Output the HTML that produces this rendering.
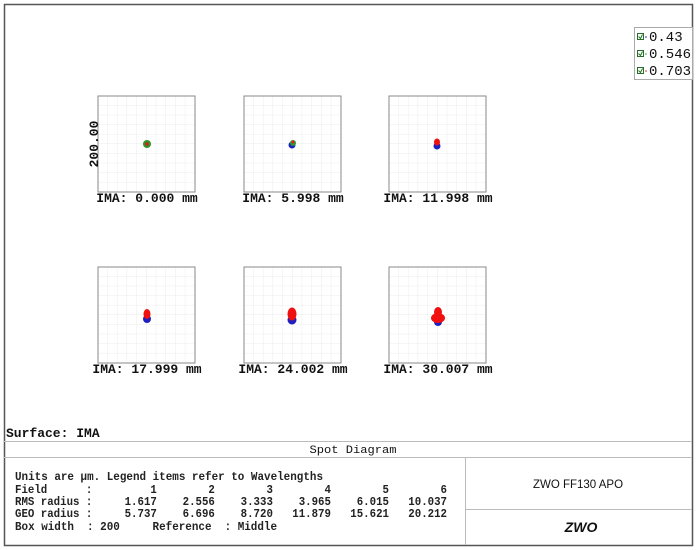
<!DOCTYPE html>
<html><head><meta charset="utf-8"><style>
body{margin:0;background:#fff;}
svg{display:block;font-family:"Liberation Mono",monospace;}
.pre{white-space:pre;}
</style></head><body>
<svg width="700" height="550" viewBox="0 0 700 550" xmlns="http://www.w3.org/2000/svg">
<defs>
<pattern id="g1" patternUnits="userSpaceOnUse" x="98" y="96" width="9.7" height="9.6"><path d="M9.7 0V9.6M0 9.6H9.7" stroke="#ebebeb" stroke-width="1" fill="none"/></pattern>
<pattern id="g2" patternUnits="userSpaceOnUse" x="244" y="96" width="9.7" height="9.6"><path d="M9.7 0V9.6M0 9.6H9.7" stroke="#ebebeb" stroke-width="1" fill="none"/></pattern>
<pattern id="g3" patternUnits="userSpaceOnUse" x="389" y="96" width="9.7" height="9.6"><path d="M9.7 0V9.6M0 9.6H9.7" stroke="#ebebeb" stroke-width="1" fill="none"/></pattern>
<pattern id="g4" patternUnits="userSpaceOnUse" x="98" y="267" width="9.7" height="9.6"><path d="M9.7 0V9.6M0 9.6H9.7" stroke="#ebebeb" stroke-width="1" fill="none"/></pattern>
<pattern id="g5" patternUnits="userSpaceOnUse" x="244" y="267" width="9.7" height="9.6"><path d="M9.7 0V9.6M0 9.6H9.7" stroke="#ebebeb" stroke-width="1" fill="none"/></pattern>
<pattern id="g6" patternUnits="userSpaceOnUse" x="389" y="267" width="9.7" height="9.6"><path d="M9.7 0V9.6M0 9.6H9.7" stroke="#ebebeb" stroke-width="1" fill="none"/></pattern>
</defs>
<rect x="4.5" y="4.5" width="688" height="541" fill="#fff" stroke="#555" stroke-width="1.5"/>
<g stroke="#888" stroke-width="1">
<rect x="98" y="96" width="97" height="96" fill="url(#g1)"/>
<rect x="244" y="96" width="97" height="96" fill="url(#g2)"/>
<rect x="389" y="96" width="97" height="96" fill="url(#g3)"/>
<rect x="98" y="267" width="97" height="96" fill="url(#g4)"/>
<rect x="244" y="267" width="97" height="96" fill="url(#g5)"/>
<rect x="389" y="267" width="97" height="96" fill="url(#g6)"/>
</g>
<circle cx="147" cy="144" r="4" fill="#2a9a2a"/><circle cx="147" cy="144" r="2" fill="#c03020"/>
<circle cx="292" cy="145" r="3.5" fill="#2020c0"/><circle cx="293" cy="143" r="3" fill="#2a9a2a"/><circle cx="293" cy="142" r="1.5" fill="#e02020"/>
<circle cx="437" cy="146" r="3.5" fill="#2020c0"/><ellipse cx="437" cy="142" rx="3" ry="3.5" fill="#f01010"/>
<circle cx="147" cy="319" r="4" fill="#2020c0"/><ellipse cx="147" cy="314" rx="3.5" ry="5" fill="#f01010"/>
<circle cx="292" cy="320" r="4.5" fill="#2020c0"/><ellipse cx="292" cy="314" rx="4.5" ry="6.5" fill="#f01010"/>
<circle cx="438" cy="322" r="4" fill="#2020c0"/><ellipse cx="438" cy="312" rx="4" ry="5" fill="#f01010"/><ellipse cx="438" cy="318" rx="7" ry="5" fill="#f01010"/>
<g font-size="13" font-weight="bold" fill="#111">
<text x="147" y="202" text-anchor="middle">IMA: 0.000 mm</text>
<text x="293" y="202" text-anchor="middle">IMA: 5.998 mm</text>
<text x="438" y="202" text-anchor="middle">IMA: 11.998 mm</text>
<text x="147" y="373" text-anchor="middle">IMA: 17.999 mm</text>
<text x="293" y="373" text-anchor="middle">IMA: 24.002 mm</text>
<text x="438" y="373" text-anchor="middle">IMA: 30.007 mm</text>
<text transform="translate(98,144) rotate(-90)" text-anchor="middle" font-size="13">200.00</text>
</g>
<rect x="634.5" y="27.5" width="58" height="52" fill="#fff" stroke="#aaa"/>
<g font-size="14" fill="#111">
<text x="649" y="41">0.43</text><text x="649" y="58">0.546</text><text x="649" y="75">0.703</text>
</g>
<g stroke="#2a6a2a" fill="none" stroke-width="1">
<rect x="637.5" y="33.5" width="6" height="6"/><rect x="637.5" y="50.5" width="6" height="6"/><rect x="637.5" y="67.5" width="6" height="6"/>
<path d="M638.5 36.5l2 2 2-4M638.5 53.5l2 2 2-4M638.5 70.5l2 2 2-4" stroke="#1a7a1a"/>
</g>
<circle cx="646" cy="37" r="0.8" fill="#2020c0"/><circle cx="646" cy="54" r="0.8" fill="#2a9a2a"/><circle cx="646" cy="71" r="0.8" fill="#e02020"/>
<text x="6" y="437" font-size="13" font-weight="bold" fill="#111">Surface: IMA</text>
<g stroke="#bbb" stroke-width="1">
<line x1="4" y1="441.5" x2="692" y2="441.5"/>
<line x1="4" y1="457.5" x2="692" y2="457.5"/>
<line x1="465.5" y1="457" x2="465.5" y2="545"/>
<line x1="465" y1="509.5" x2="692" y2="509.5"/>
</g>
<text x="353" y="453" font-size="11" text-anchor="middle" fill="#111" textLength="87" lengthAdjust="spacingAndGlyphs">Spot Diagram</text>
<g font-size="11.5" font-weight="bold" fill="#222">
<text class="pre" x="15" y="480" textLength="308" lengthAdjust="spacingAndGlyphs">Units are µm. Legend items refer to Wavelengths</text>
<text class="pre" x="15" y="493" textLength="432" lengthAdjust="spacingAndGlyphs">Field      :         1        2        3        4        5        6</text>
<text class="pre" x="15" y="505" textLength="432" lengthAdjust="spacingAndGlyphs">RMS radius :     1.617    2.556    3.333    3.965    6.015   10.037</text>
<text class="pre" x="15" y="517" textLength="432" lengthAdjust="spacingAndGlyphs">GEO radius :     5.737    6.696    8.720   11.879   15.621   20.212</text>
<text class="pre" x="15" y="530" textLength="262" lengthAdjust="spacingAndGlyphs">Box width  : 200     Reference  : Middle</text>
</g>
<text x="578" y="488" font-family="Liberation Sans,sans-serif" font-size="11.5" text-anchor="middle" fill="#111">ZWO FF130 APO</text>
<text x="581" y="532" font-family="Liberation Sans,sans-serif" font-size="14" font-weight="bold" font-style="italic" text-anchor="middle" fill="#111">ZWO</text>
</svg>
</body></html>
